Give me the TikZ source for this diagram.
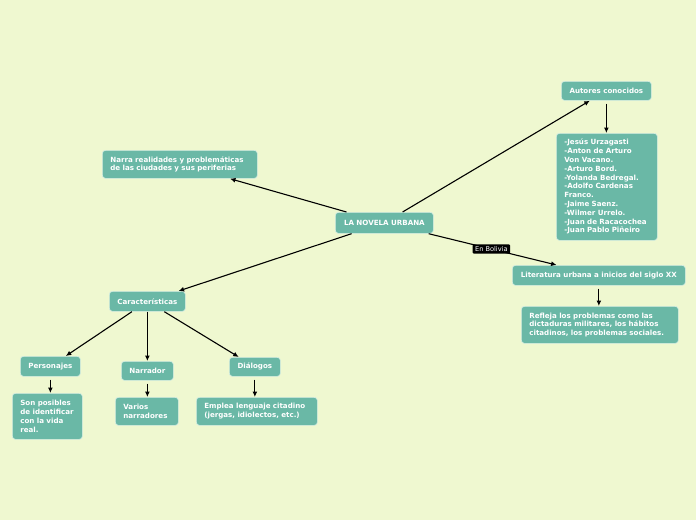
\documentclass[tikz,border=0pt]{standalone}
\usepackage{fontspec}
\setmainfont{DejaVu Sans}
\usetikzlibrary{arrows.meta}
\definecolor{bgc}{RGB}{239,248,208}
\definecolor{boxc}{RGB}{106,184,166}
\definecolor{edgec}{RGB}{214,238,226}
\tikzset{
  box/.style={draw=edgec, line width=0.7pt, fill=boxc, rounded corners=3pt,
    text=white, font=\bfseries\fontsize{7.1}{8.8}\selectfont, anchor=north west,
    inner xsep=8pt, inner ysep=2pt, align=left},
  cbox/.style={box, align=center, inner xsep=2pt},
  conn/.style={-{Latex[length=5.5pt,width=5pt]}, line width=1.1pt, black},
  lbl/.style={fill=black, text=white, font=\fontsize{6.6}{7}\selectfont,
    rounded corners=1pt, inner xsep=2.5pt, inner ysep=2pt}
}
\begin{document}
\begin{tikzpicture}[x=1pt,y=-1pt]
\fill[bgc] (0,0) rectangle (696,520);
\useasboundingbox (0,0) rectangle (696,520);

\node[cbox, minimum width=98pt, minimum height=21pt] (main) at (335,212) {LA NOVELA URBANA};
\node[box, text width=139pt, minimum height=28pt] (narra) at (102,150) {Narra realidades y problemáticas\\de las ciudades y sus periferias};
\node[cbox, minimum width=90pt, minimum height=19pt] (autores) at (561,81) {Autores conocidos};
\node[box, text width=85pt, minimum height=107pt, yshift=-1pt] (lista) at (556,132) {-Jesús Urzagasti\\-Anton de Arturo\\Von Vacano.\\-Arturo Bord.\\-Yolanda Bedregal.\\-Adolfo Cardenas\\Franco.\\-Jaime Saenz.\\-Wilmer Urrelo.\\-Juan de Racacochea\\-Juan Pablo Piñeiro};
\node[cbox, minimum width=173pt, minimum height=20pt] (lit) at (512,265) {Literatura urbana a inicios del siglo XX};
\node[box, text width=141pt, minimum height=37pt] (refleja) at (521,306) {Refleja los problemas como las\\dictaduras militares, los hábitos\\citadinos, los problemas sociales.};
\node[cbox, minimum width=76pt, minimum height=20pt] (car) at (109,291) {Características};
\node[cbox, minimum width=60pt, minimum height=20pt] (pers) at (20,356) {Personajes};
\node[box, text width=54pt, minimum height=46pt] (son) at (12,393) {Son posibles\\de identificar\\con la vida\\real.};
\node[cbox, minimum width=52pt, minimum height=19pt] (narr) at (121,361) {Narrador};
\node[box, text width=47pt, minimum height=28pt] (varios) at (115,397) {Varios\\narradores};
\node[cbox, minimum width=51pt, minimum height=19pt] (dial) at (229,357) {Diálogos};
\node[box, text width=105pt, minimum height=28pt] (emplea) at (196,397) {Emplea lenguaje citadino\\(jergas, idiolectos, etc.)};

\draw[conn] (main) -- (narra);
\draw[conn] (main) -- (autores);
\draw[conn] (main) -- node[lbl, pos=0.49] {En Bolivia} (lit);
\draw[conn] (main) -- (car);
\draw[conn, shorten <=3pt] (autores.south) -- (autores.south |- lista.north);
\draw[conn, shorten <=3pt] (lit.south) -- (lit.south |- refleja.north);
\draw[conn] (car) -- (pers);
\draw[conn] (car) -- (narr);
\draw[conn] (car) -- (dial);
\draw[conn, shorten <=3pt] (pers.south) -- (pers.south |- son.north);
\draw[conn, shorten <=3pt] (narr.south) -- (narr.south |- varios.north);
\draw[conn, shorten <=3pt] (dial.south) -- (dial.south |- emplea.north);
\end{tikzpicture}
\end{document}
